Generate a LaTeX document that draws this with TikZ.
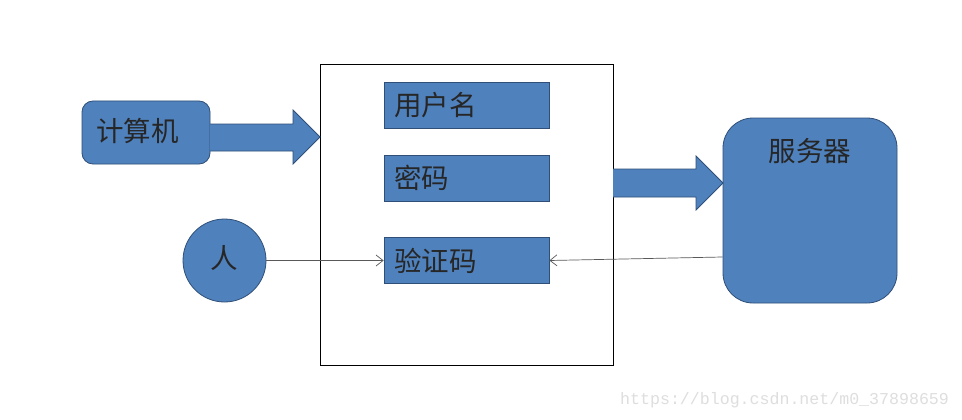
\documentclass[tikz,border=0pt]{standalone}
\usepackage{fontspec}
\newfontfamily\cjk{Noto Sans CJK SC}
\newfontfamily\wmfont{Liberation Mono}
\usetikzlibrary{arrows.meta}
\definecolor{ofblue}{HTML}{4F81BD}
\definecolor{ofedge}{HTML}{2F4F78}
\definecolor{wmgray}{HTML}{DEDEDE}
\begin{document}
\begin{tikzpicture}[x=1pt,y=-1pt,
  bluebox/.style={fill=ofblue,draw=ofedge,line width=0.8pt,inner sep=0pt},
  fieldbox/.style={bluebox,minimum width=165pt,minimum height=46pt},
  lbl/.style={inner sep=0pt,font=\cjk\fontsize{27.5}{31}\selectfont,text=black!85},
  blockarrow/.style={fill=ofblue,draw=ofedge,line width=0.8pt,line join=miter},
  thinarrow/.style={draw=black!65,line width=0.7pt,-{Straight Barb[length=7pt,width=11pt]}}
]
\useasboundingbox (0,0) rectangle (962,420);
\fill[white] (0,0) rectangle (962,420);

% computer
\node[bluebox,rounded corners=11pt,minimum width=128pt,minimum height=63pt] (comp) at (146,132.5) {};
\node[lbl,anchor=west] (compt) at (96,131) {计算机};

% form
\node[draw=black,line width=0.8pt,minimum width=293pt,minimum height=301pt,inner sep=0pt] (form) at (466.5,214.5) {};

% fields
\node[fieldbox] (user) at (466.5,105) {};
\node[lbl,anchor=west] (usert) at (394,105) {用户名};
\node[fieldbox] (pwd) at (466.5,178) {};
\node[lbl,anchor=west] (pwdt) at (394,178) {密码};
\node[fieldbox] (code) at (466.5,260.5) {};
\node[lbl,anchor=west] (codet) at (394,260.5) {验证码};

% server
\node[bluebox,rounded corners=30pt,minimum width=174pt,minimum height=185pt] (server) at (810,210.5) {};
\node[lbl] (servert) at (810,151) {服务器};

% person
\node[bluebox,circle,minimum size=83pt] (person) at (224.5,260.5) {};
\node[lbl] (persont) at (224.5,258) {人};

% block arrows
\draw[blockarrow] (210,124) -- (293,124) -- (293,110) -- (320,137) -- (293,164) -- (293,151) -- (210,151);
\draw[blockarrow] (613,169) -- (696,169) -- (696,156) -- (723,183) -- (696,210) -- (696,197) -- (613,197);

% thin arrows
\draw[thinarrow] (person.east) -- (code.west);
\draw[thinarrow] ([yshift=-46.5pt]server.west) -- (code.east);

% watermark
\node[anchor=west,inner sep=0pt,text=wmgray,font=\wmfont\fontsize{16.6}{18}\selectfont] (wm) at (620,400) {https://blog.csdn.net/m0\_37898659};
\end{tikzpicture}
\end{document}
